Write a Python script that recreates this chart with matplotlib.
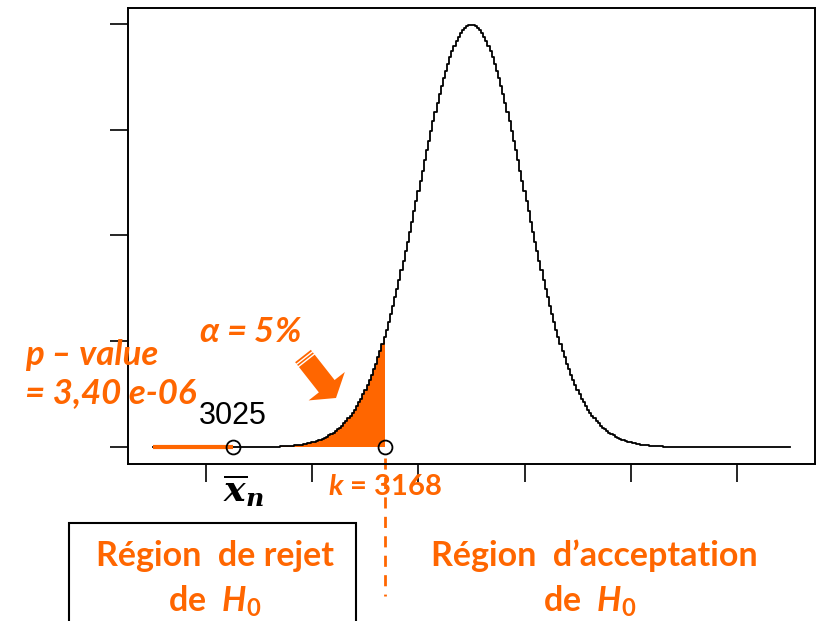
import numpy as np
import matplotlib.pyplot as plt
from matplotlib.lines import Line2D
from matplotlib.patches import Rectangle, Polygon
from matplotlib.transforms import blended_transform_factory

plt.rcParams['mathtext.fontset'] = 'custom'
plt.rcParams['mathtext.rm'] = 'Lato:bold'
plt.rcParams['mathtext.it'] = 'Lato:bold:italic'
plt.rcParams['mathtext.bf'] = 'Lato:bold'

orange = '#FF6600'

# density of the mean under H0
mu = 3250
sigma = 50
x_min, x_max = 2950, 3550
step = 2
k = 3168
x_bar = 3025
x_bar_label = '3025'
x_ticks = [3000, 3100, 3200, 3300, 3400, 3500]
y_ticks = [0, 0.002, 0.004, 0.006, 0.008]

x = np.arange(x_min, x_max + step, step)
dens = np.exp(-0.5 * ((x - mu) / sigma) ** 2) / (sigma * np.sqrt(2 * np.pi))

W, H = 819, 621
fig = plt.figure(figsize=(W / 100, H / 100), dpi=100)
ax = fig.add_axes([128 / W, 1 - 464 / H, 687 / W, 456 / H])


def fx(px):
    return px / W


def fy(py):
    return 1 - py / H


# rejection area (alpha)
xs = np.append(x[x < k], k)
ys = np.exp(-0.5 * ((xs - mu) / sigma) ** 2) / (sigma * np.sqrt(2 * np.pi))
ax.fill_between(xs, ys, step='mid', color=orange, lw=0, zorder=2)

# density curve
ax.plot(x, dens, color='black', lw=1.3, drawstyle='steps-mid', zorder=3)

# p-value segment
ax.plot([x_min, x_bar], [0, 0], color=orange, lw=3, solid_capstyle='butt', zorder=4)
ax.plot([x_bar, k], [0, 0], 'o', ms=10, mfc='none', mec='black', mew=1.3, zorder=5)
ax.text(x_bar, 0.0003, x_bar_label, ha='center', va='bottom', fontsize=22,
        family='Liberation Sans')

ax.set_xlim(x_min - 0.04 * (x_max - x_min), x_max + 0.04 * (x_max - x_min))
ax.set_ylim(-0.04 * dens.max(), dens.max() * 1.04)
ax.set_xticks(x_ticks)
ax.set_yticks(y_ticks)
ax.set_xticklabels([])
ax.set_yticklabels([])
ax.tick_params(length=13, width=1.2, color='black')
for s in ax.spines.values():
    s.set_linewidth(1.4)

# dashed line at k, below the axis
tr = blended_transform_factory(ax.transData, fig.transFigure)
ax.add_line(Line2D([k, k], [fy(458), fy(596)], transform=tr, color=orange, lw=2,
                   dashes=(4, 3), clip_on=False))

# labels
fig.text(fx(244), fy(491), r'$\mathbfit{\overline{x}_n}$', ha='center', va='center',
         fontsize=26, math_fontfamily='dejavuserif', color='black')
fig.text(fx(385), fy(487), '$k$ = 3168', ha='center', va='center', fontsize=21,
         fontweight='bold', family='Lato', color=orange)
fig.text(fx(250), fy(332), r'$\alpha$ = 5%', ha='center', va='center', fontsize=25,
         fontweight='bold', fontstyle='italic', family=['Lato', 'DejaVu Sans'],
         color=orange)
fig.text(fx(25), fy(355), 'p – value', ha='left', va='center', fontsize=25,
         fontweight='bold', fontstyle='italic', family='Lato', color=orange)
fig.text(fx(25), fy(393), '= 3,40 e-06', ha='left', va='center', fontsize=25,
         fontweight='bold', fontstyle='italic', family='Lato', color=orange)

# striped block arrow pointing at the alpha area
tail = np.array([303.0, 356.0])
tip = np.array([336.0, 398.0])
u = (tip - tail) / np.hypot(*(tip - tail))
nv = np.array([u[1], -u[0]])
base = tip - u * 15
shaft, head = 10, 23
pts = [tail + nv * shaft, base + nv * shaft, base + nv * head, tip,
       base - nv * head, base - nv * shaft, tail - nv * shaft]
fig.add_artist(Polygon([(fx(p[0]), fy(p[1])) for p in pts], closed=True,
                       transform=fig.transFigure, fc=orange, ec='none'))
for d in (2.5, 5.5):
    c = tail + u * d
    p1, p2 = c + nv * (shaft + 1), c - nv * (shaft + 1)
    fig.add_artist(Line2D([fx(p1[0]), fx(p2[0])], [fy(p1[1]), fy(p2[1])],
                          transform=fig.transFigure, color='white', lw=1.0))

# regions
fig.add_artist(Rectangle((fx(69), fy(640)), fx(356) - fx(69), fy(523) - fy(640),
                         transform=fig.transFigure, fill=False, ec='black', lw=1.5))
fig.text(fx(215), fy(556), 'Région  de rejet', ha='center', va='center', fontsize=24.5,
         fontweight='bold', family='Lato', color=orange)
fig.text(fx(215), fy(601), 'de  $H_0$', ha='center', va='center', fontsize=24.5,
         fontweight='bold', family='Lato', color=orange)
fig.text(fx(594), fy(556), 'Région  d’acceptation', ha='center', va='center', fontsize=24.5,
         fontweight='bold', family='Lato', color=orange)
fig.text(fx(590), fy(601), 'de  $H_0$', ha='center', va='center', fontsize=24.5,
         fontweight='bold', family='Lato', color=orange)

fig.savefig('out.png', dpi=100)
